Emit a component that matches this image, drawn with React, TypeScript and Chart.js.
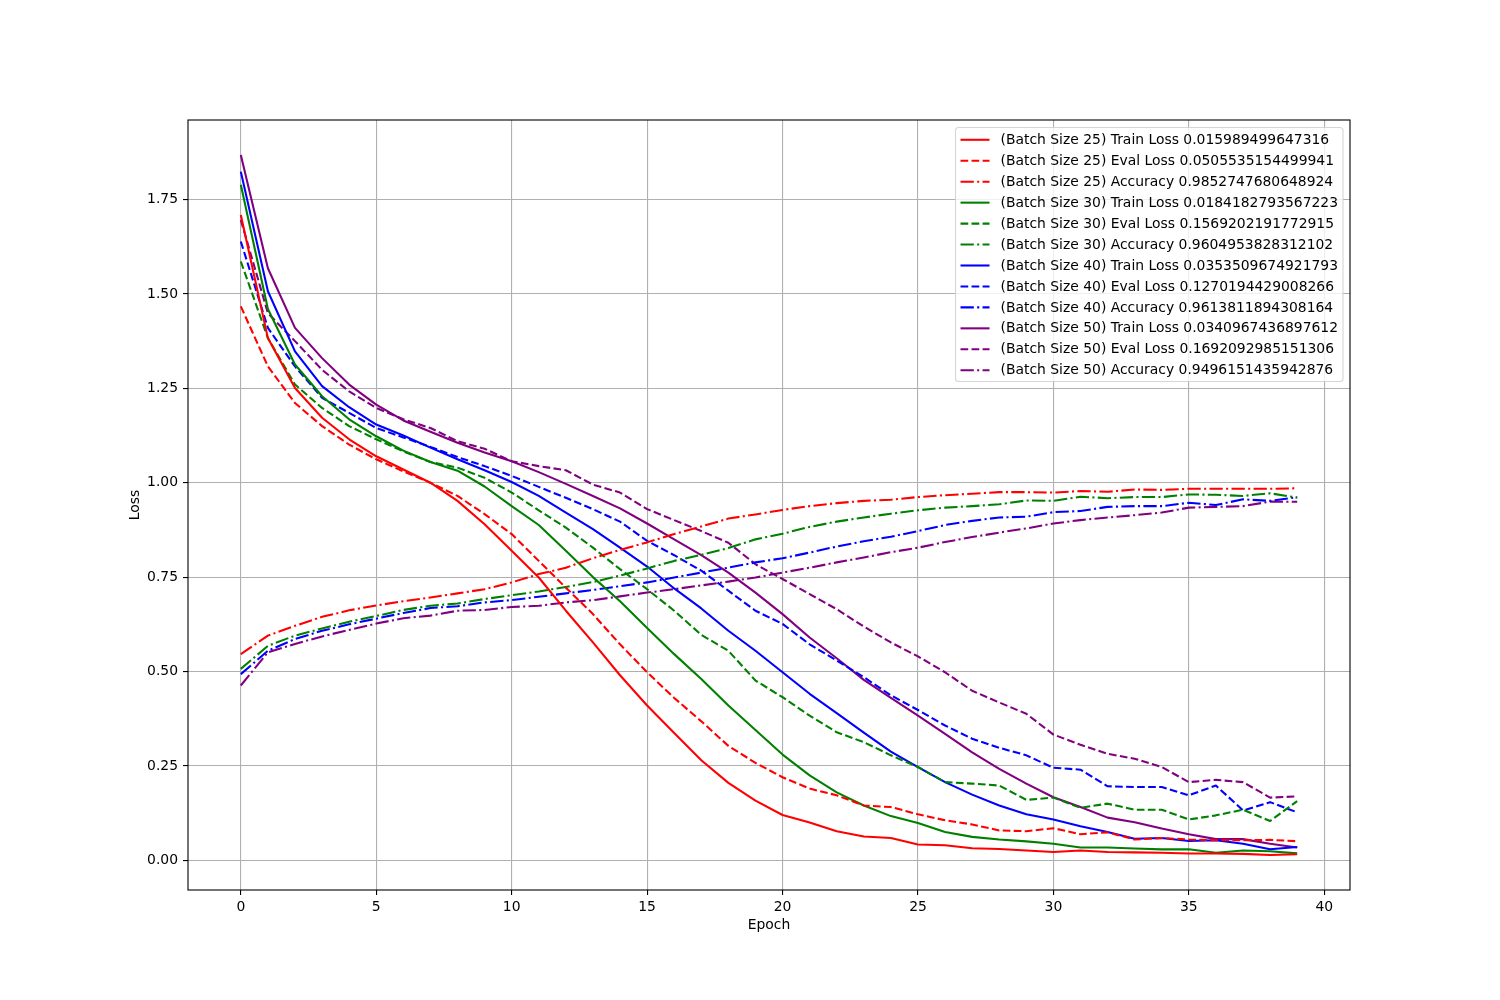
import React, { useEffect, useRef } from "react";
import { Chart, registerables } from "chart.js";

Chart.register(...registerables);

const epochs = [0, 1, 2, 3, 4, 5, 6, 7, 8, 9, 10, 11, 12, 13, 14, 15, 16, 17, 18, 19, 20, 21, 22, 23, 24, 25, 26, 27, 28, 29, 30, 31, 32, 33, 34, 35, 36, 37, 38, 39];

const trainLoss25 = [1.709, 1.383, 1.251, 1.172, 1.115, 1.07, 1.035, 1.0, 0.952, 0.89, 0.82, 0.749, 0.661, 0.577, 0.49, 0.41, 0.337, 0.265, 0.205, 0.158, 0.12, 0.1, 0.077, 0.063, 0.059, 0.042, 0.04, 0.032, 0.03, 0.026, 0.022, 0.026, 0.022, 0.021, 0.02, 0.018, 0.018, 0.017, 0.014, 0.016];
const evalLoss25 = [1.467, 1.308, 1.211, 1.15, 1.101, 1.062, 1.03, 1.0, 0.965, 0.917, 0.864, 0.793, 0.722, 0.652, 0.572, 0.498, 0.43, 0.368, 0.303, 0.258, 0.22, 0.19, 0.172, 0.145, 0.141, 0.122, 0.106, 0.095, 0.079, 0.077, 0.085, 0.069, 0.074, 0.055, 0.059, 0.055, 0.053, 0.053, 0.054, 0.0506];
const acc25 = [0.546, 0.595, 0.621, 0.645, 0.662, 0.675, 0.686, 0.696, 0.707, 0.718, 0.736, 0.758, 0.775, 0.8, 0.822, 0.842, 0.864, 0.884, 0.905, 0.916, 0.928, 0.938, 0.946, 0.952, 0.955, 0.962, 0.967, 0.971, 0.975, 0.975, 0.974, 0.978, 0.976, 0.982, 0.981, 0.984, 0.984, 0.984, 0.984, 0.9853];

const trainLoss30 = [1.789, 1.46, 1.313, 1.229, 1.168, 1.123, 1.085, 1.055, 1.032, 0.99, 0.938, 0.888, 0.82, 0.75, 0.686, 0.615, 0.546, 0.48, 0.41, 0.345, 0.28, 0.225, 0.18, 0.145, 0.117, 0.099, 0.075, 0.062, 0.055, 0.05, 0.044, 0.034, 0.034, 0.031, 0.029, 0.029, 0.02, 0.026, 0.024, 0.0184];
const evalLoss30 = [1.586, 1.383, 1.26, 1.198, 1.15, 1.115, 1.083, 1.055, 1.04, 1.013, 0.974, 0.927, 0.881, 0.828, 0.771, 0.718, 0.661, 0.597, 0.555, 0.476, 0.432, 0.383, 0.339, 0.313, 0.278, 0.247, 0.207, 0.203, 0.198, 0.16, 0.166, 0.139, 0.15, 0.134, 0.134, 0.108, 0.119, 0.134, 0.104, 0.1569];
const acc30 = [0.507, 0.568, 0.595, 0.614, 0.632, 0.647, 0.663, 0.674, 0.68, 0.692, 0.702, 0.712, 0.724, 0.737, 0.754, 0.773, 0.793, 0.809, 0.827, 0.85, 0.865, 0.883, 0.897, 0.908, 0.918, 0.927, 0.934, 0.938, 0.943, 0.953, 0.952, 0.963, 0.959, 0.962, 0.962, 0.969, 0.968, 0.965, 0.972, 0.9605];

const trainLoss40 = [1.824, 1.507, 1.348, 1.256, 1.2, 1.154, 1.125, 1.093, 1.062, 1.033, 1.002, 0.965, 0.921, 0.877, 0.828, 0.778, 0.72, 0.667, 0.608, 0.555, 0.498, 0.441, 0.39, 0.338, 0.288, 0.247, 0.207, 0.174, 0.145, 0.122, 0.108, 0.09, 0.075, 0.057, 0.059, 0.051, 0.053, 0.044, 0.029, 0.0354];
const evalLoss40 = [1.639, 1.41, 1.308, 1.225, 1.185, 1.145, 1.12, 1.095, 1.068, 1.044, 1.018, 0.989, 0.96, 0.93, 0.897, 0.846, 0.808, 0.767, 0.714, 0.661, 0.626, 0.572, 0.529, 0.485, 0.437, 0.398, 0.357, 0.322, 0.298, 0.278, 0.245, 0.24, 0.196, 0.194, 0.194, 0.172, 0.198, 0.132, 0.154, 0.127];
const acc40 = [0.493, 0.555, 0.586, 0.608, 0.625, 0.64, 0.655, 0.668, 0.673, 0.683, 0.689, 0.698, 0.707, 0.716, 0.726, 0.736, 0.749, 0.762, 0.775, 0.789, 0.8, 0.815, 0.831, 0.845, 0.857, 0.872, 0.888, 0.899, 0.908, 0.91, 0.922, 0.925, 0.936, 0.938, 0.938, 0.947, 0.941, 0.956, 0.952, 0.9614];

const trainLoss50 = [1.868, 1.568, 1.41, 1.33, 1.26, 1.207, 1.165, 1.135, 1.106, 1.08, 1.057, 1.028, 0.997, 0.965, 0.932, 0.892, 0.85, 0.808, 0.762, 0.709, 0.652, 0.59, 0.535, 0.478, 0.43, 0.383, 0.335, 0.286, 0.242, 0.203, 0.167, 0.141, 0.113, 0.101, 0.084, 0.069, 0.056, 0.056, 0.044, 0.0341];
const evalLoss50 = [1.696, 1.449, 1.375, 1.299, 1.242, 1.198, 1.168, 1.145, 1.11, 1.09, 1.057, 1.044, 1.033, 0.995, 0.974, 0.93, 0.901, 0.872, 0.841, 0.784, 0.745, 0.705, 0.665, 0.619, 0.577, 0.54, 0.498, 0.449, 0.418, 0.388, 0.333, 0.306, 0.282, 0.269, 0.247, 0.207, 0.213, 0.207, 0.166, 0.1692];
const acc50 = [0.463, 0.551, 0.573, 0.593, 0.61, 0.627, 0.641, 0.648, 0.661, 0.663, 0.671, 0.674, 0.683, 0.689, 0.699, 0.709, 0.718, 0.728, 0.738, 0.749, 0.762, 0.775, 0.789, 0.802, 0.816, 0.828, 0.843, 0.856, 0.868, 0.879, 0.892, 0.901, 0.908, 0.914, 0.921, 0.934, 0.936, 0.938, 0.95, 0.9496];

const seriesLabels = [
  "(Batch Size 25) Train Loss 0.015989499647316",
  "(Batch Size 25) Eval Loss 0.0505535154499941",
  "(Batch Size 25) Accuracy 0.9852747680648924",
  "(Batch Size 30) Train Loss 0.0184182793567223",
  "(Batch Size 30) Eval Loss 0.1569202191772915",
  "(Batch Size 30) Accuracy 0.9604953828312102",
  "(Batch Size 40) Train Loss 0.0353509674921793",
  "(Batch Size 40) Eval Loss 0.1270194429008266",
  "(Batch Size 40) Accuracy 0.9613811894308164",
  "(Batch Size 50) Train Loss 0.0340967436897612",
  "(Batch Size 50) Eval Loss 0.1692092985151306",
  "(Batch Size 50) Accuracy 0.9496151435942876",
];

const xTicks = [0, 5, 10, 15, 20, 25, 30, 35, 40];
const yTicks = [0, 0.25, 0.5, 0.75, 1.0, 1.25, 1.5, 1.75];

const FONT = '"DejaVu Sans", "Liberation Sans", sans-serif';
const FS = 13.9;
const LW = 2.08;
const DASHED = [7.7, 3.33];
const DASHDOT = [13.3, 3.33, 2.08, 3.33];

const seriesValues = [
  trainLoss25, evalLoss25, acc25,
  trainLoss30, evalLoss30, acc30,
  trainLoss40, evalLoss40, acc40,
  trainLoss50, evalLoss50, acc50,
];
const groupColors = ["#ff0000", "#008000", "#0000ff", "#800080"];
const styleDashes = [[], DASHED, DASHDOT];

const frameAndLegend = {
  id: "frameAndLegend",
  afterDatasetsDraw(chart: any) {
    const { ctx, chartArea } = chart;
    ctx.save();
    ctx.strokeStyle = "#000";
    ctx.lineWidth = 1.1;
    ctx.setLineDash([]);
    ctx.strokeRect(chartArea.left, chartArea.top, chartArea.right - chartArea.left, chartArea.bottom - chartArea.top);

    ctx.font = `${FS}px ${FONT}`;
    let maxW = 0;
    seriesLabels.forEach((t) => {
      maxW = Math.max(maxW, ctx.measureText(t).width);
    });
    const right = chartArea.right - 7;
    const top = chartArea.top + 7.5;
    const textOffset = 45;
    const left = right - 5 - maxW - textOffset;
    const rowH = 20.95;
    const height = 254;
    ctx.beginPath();
    (ctx as any).roundRect(left, top, right - left, height, 3);
    ctx.fillStyle = "rgba(255,255,255,0.8)";
    ctx.fill();
    ctx.strokeStyle = "rgba(204,204,204,0.8)";
    ctx.lineWidth = 1.1;
    ctx.stroke();

    chart.data.datasets.forEach((ds: any, i: number) => {
      const y = top + 12.3 + i * rowH;
      ctx.beginPath();
      ctx.strokeStyle = ds.borderColor;
      ctx.lineWidth = LW;
      ctx.lineCap = "butt";
      ctx.setLineDash(ds.borderDash || []);
      ctx.moveTo(left + 5, y);
      ctx.lineTo(left + 34, y);
      ctx.stroke();
      ctx.setLineDash([]);
      ctx.fillStyle = "#000";
      ctx.textBaseline = "middle";
      ctx.textAlign = "left";
      ctx.fillText(ds.label, left + textOffset, y + 0.5);
    });
    ctx.restore();
  },
};

export default function App() {
  const ref = useRef<HTMLCanvasElement | null>(null);
  useEffect(() => {
    if (!ref.current) return;
    const datasets = seriesValues.map((vals, i) => ({
      label: seriesLabels[i],
      data: vals.map((v, j) => ({ x: epochs[j], y: v })),
      borderColor: groupColors[Math.floor(i / 3)],
      backgroundColor: groupColors[Math.floor(i / 3)],
      borderDash: styleDashes[i % 3],
      borderWidth: LW,
      borderCapStyle: "butt" as const,
      borderJoinStyle: "round" as const,
      pointRadius: 0,
      pointHoverRadius: 0,
      tension: 0,
      fill: false,
    }));
    const chart = new Chart(ref.current, {
      type: "line",
      data: { datasets },
      options: {
        animation: false,
        responsive: false,
        devicePixelRatio: 1,
        events: [],
        layout: { padding: { left: 0, top: 120, right: 150, bottom: 0 } },
        plugins: {
          legend: { display: false },
          tooltip: { enabled: false },
        },
        scales: {
          x: {
            type: "linear",
            min: -1.95,
            max: 40.95,
            afterBuildTicks: (scale: any) => {
              scale.ticks = xTicks.map((v) => ({ value: v }));
            },
            afterFit: (scale: any) => {
              scale.height = 110;
            },
            grid: { color: "#b0b0b0", lineWidth: 1.1, tickColor: "#000", tickLength: 5, drawTicks: true },
            border: { display: false },
            ticks: {
              color: "#000",
              font: { family: FONT, size: FS },
              padding: 4,
              maxRotation: 0,
              autoSkip: false,
              callback: (v: any) => String(v),
            },
            title: {
              display: true,
              text: "Epoch",
              color: "#000",
              font: { family: FONT, size: FS },
              padding: { top: 0, bottom: 66.7 },
            },
          },
          y: {
            type: "linear",
            min: -0.0787,
            max: 1.9607,
            afterBuildTicks: (scale: any) => {
              scale.ticks = yTicks.map((v) => ({ value: v }));
            },
            afterFit: (scale: any) => {
              scale.width = 188;
            },
            grid: { color: "#b0b0b0", lineWidth: 1.1, tickColor: "#000", tickLength: 5, drawTicks: true },
            border: { display: false },
            ticks: {
              color: "#000",
              font: { family: FONT, size: FS },
              padding: 5,
              autoSkip: false,
              callback: (v: any) => Number(v).toFixed(2),
            },
            title: {
              display: true,
              text: "Loss",
              color: "#000",
              font: { family: FONT, size: FS },
              padding: { top: 126.7, bottom: 0 },
            },
          },
        },
      },
      plugins: [frameAndLegend],
    });
    return () => chart.destroy();
  }, []);
  return (
    <div style={{ position: "absolute", left: 0, top: 0, width: 1500, height: 1000, background: "#fff" }}>
      <canvas ref={ref} width={1500} height={1000} style={{ display: "block" }} />
    </div>
  );
}
